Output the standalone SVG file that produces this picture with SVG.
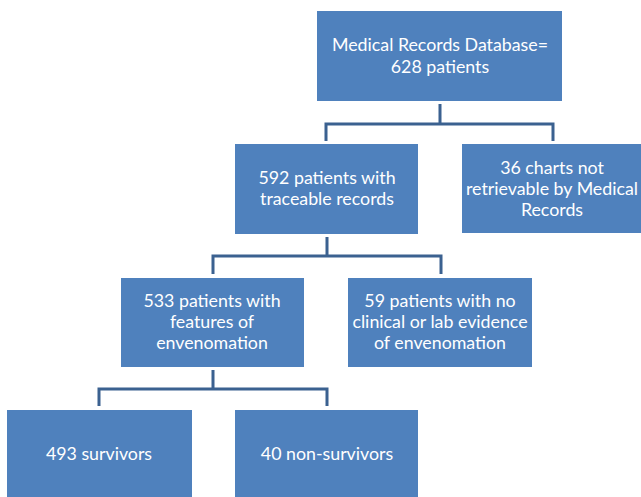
<svg xmlns="http://www.w3.org/2000/svg" width="641" height="497" viewBox="0 0 641 497">
<style>
.box{fill:#4F81BD;}
.t{font-family:Lato,"Liberation Sans",sans-serif;font-size:17.8px;fill:#fff;text-anchor:middle;}
.c{fill:none;stroke:#3B6190;stroke-width:3;}
</style>
<rect width="641" height="497" fill="#fff"/>
<g id="connectors">
<path class="c" d="M440 104V124M326 124H553M326 122.5V141M553 122.5V141"/>
<path class="c" d="M327 237V256M213 256H441M213 254.5V274M441 254.5V274"/>
<path class="c" d="M213 370V389M99 389H327M99 387.5V406M327 387.5V406"/>
</g>
<g id="n1"><rect class="box" x="317" y="11" width="245" height="90"/><text class="t" x="440" y="51">Medical Records  Database=</text><text class="t" x="440" y="73">628 patients</text></g>
<g id="n2"><rect class="box" x="235" y="144" width="183" height="90"/><text class="t" x="327" y="184">592 patients with</text><text class="t" x="327" y="205">traceable records</text></g>
<g id="n3"><rect class="box" x="462" y="144" width="180" height="89"/><text class="t" x="552" y="174">36 charts not</text><text class="t" x="552" y="195">retrievable by Medical</text><text class="t" x="552" y="216">Records</text></g>
<g id="n4"><rect class="box" x="121" y="278" width="183" height="89"/><text class="t" x="212" y="307">533 patients with</text><text class="t" x="212" y="328">features of</text><text class="t" x="212" y="349">envenomation</text></g>
<g id="n5"><rect class="box" x="348" y="278" width="184" height="89"/><text class="t" x="440" y="307">59 patients with no</text><text class="t" x="440" y="328">clinical or lab evidence</text><text class="t" x="440" y="349">of envenomation</text></g>
<g id="n6"><rect class="box" x="7" y="410" width="185" height="90"/><text class="t" x="99" y="460">493 survivors</text></g>
<g id="n7"><rect class="box" x="235" y="410" width="183" height="90"/><text class="t" x="327" y="460">40 non-survivors</text></g>
</svg>
